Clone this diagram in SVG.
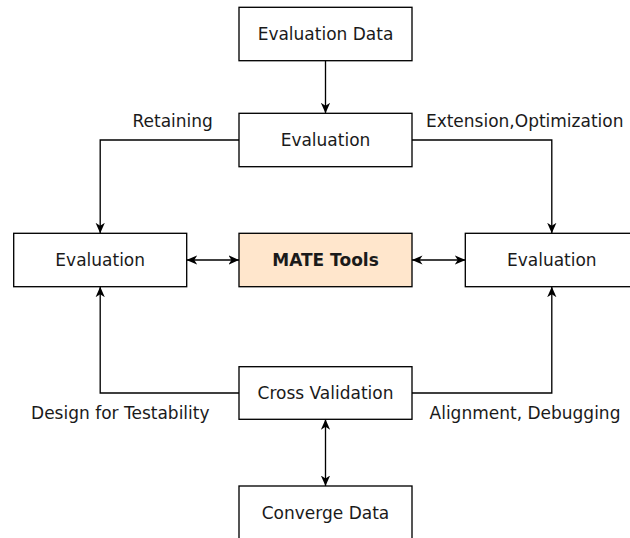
<svg xmlns="http://www.w3.org/2000/svg" width="630" height="538" viewBox="0 0 630 538">
<style>
.box{fill:#ffffff;stroke:#000000;stroke-width:1.33}
.hl{fill:#ffe6cc;stroke:#000000;stroke-width:1.33}
.t{font-family:"DejaVu Sans","Verdana",sans-serif;font-size:17px;fill:#1a1a1a;text-anchor:middle}
.b{font-weight:bold}
.c{fill:none;stroke:#000000;stroke-width:1.33}
</style>
<defs>
<marker id="ar" viewBox="0 0 10 10" refX="10" refY="5" markerWidth="10.5" markerHeight="10.5" markerUnits="userSpaceOnUse" orient="auto-start-reverse">
<path d="M0,0.6 L10,5 L0,9.4 L2.8,5 z" fill="#000000"/>
</marker>
</defs>
<rect width="630" height="538" fill="#ffffff"/>
<g id="connectors">
<path class="c" d="M325.5,60.7 V113.3" marker-end="url(#ar)"/>
<path class="c" d="M239,140 H100.2 V233.3" marker-end="url(#ar)"/>
<path class="c" d="M412,140 H551.8 V233.3" marker-end="url(#ar)"/>
<path class="c" d="M186.7,260 H239" marker-start="url(#ar)" marker-end="url(#ar)"/>
<path class="c" d="M412,260 H465.3" marker-start="url(#ar)" marker-end="url(#ar)"/>
<path class="c" d="M239,393 H100.2 V286.7" marker-end="url(#ar)"/>
<path class="c" d="M412,393 H551.8 V286.7" marker-end="url(#ar)"/>
<path class="c" d="M325.5,419.3 V486" marker-start="url(#ar)" marker-end="url(#ar)"/>
<text class="t" x="172.7" y="126.7">Retaining</text>
<text class="t" x="524.7" y="126.7">Extension,Optimization</text>
<text class="t" x="120.3" y="419.3">Design for Testability</text>
<text class="t" x="525" y="418.8">Alignment, Debugging</text>
</g>
<g id="evaluation-data">
<rect class="box" x="239" y="7.3" width="173" height="53.4"/>
<text class="t" x="325.5" y="40">Evaluation Data</text>
</g>
<g id="evaluation-top">
<rect class="box" x="239" y="113.3" width="173" height="53.4"/>
<text class="t" x="325.5" y="146">Evaluation</text>
</g>
<g id="evaluation-left">
<rect class="box" x="13.7" y="233.3" width="173" height="53.4"/>
<text class="t" x="100.2" y="266">Evaluation</text>
</g>
<g id="mate-tools">
<rect class="hl" x="239" y="233.3" width="173" height="53.4"/>
<text class="t b" x="325.5" y="266">MATE Tools</text>
</g>
<g id="evaluation-right">
<rect class="box" x="465.3" y="233.3" width="173" height="53.4"/>
<text class="t" x="551.8" y="266">Evaluation</text>
</g>
<g id="cross-validation">
<rect class="box" x="239" y="366.7" width="173" height="52.6"/>
<text class="t" x="325.5" y="399">Cross Validation</text>
</g>
<g id="converge-data">
<rect class="box" x="239" y="486" width="173" height="53.4"/>
<text class="t" x="325.5" y="518.7">Converge Data</text>
</g>
</svg>
